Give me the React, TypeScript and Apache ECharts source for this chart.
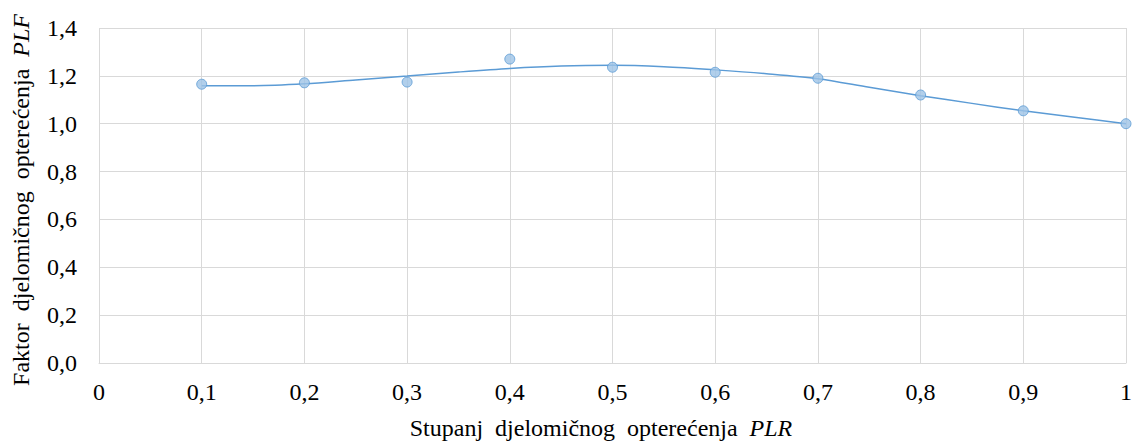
import React, { useEffect, useRef } from "react";
import * as echarts from "echarts";

const plrValues = [0.1, 0.2, 0.3, 0.4, 0.5, 0.6, 0.7, 0.8, 0.9, 1.0];
const plfValues = [1.165, 1.171, 1.174, 1.27, 1.236, 1.215, 1.19, 1.12, 1.054, 1.0];

const trendX = [0.1, 0.15, 0.2, 0.25, 0.3, 0.35, 0.4, 0.45, 0.5, 0.55, 0.6, 0.65, 0.7, 0.75, 0.8, 0.85, 0.9, 0.95, 1.0];
const trendY = [1.159, 1.159, 1.167, 1.183, 1.199, 1.216, 1.231, 1.241, 1.244, 1.238, 1.225, 1.209, 1.188, 1.152, 1.117, 1.085, 1.054, 1.027, 1.0];

const xTitle = "Stupanj  djelomičnog  opterećenja";
const xTitleItalic = "PLR";
const yTitle = "Faktor  djelomičnog  opterećenja";
const yTitleItalic = "PLF";

const FONT = "Liberation Serif";
const FS = 24;

function fmtX(v: number): string {
  if (Math.abs(v) < 1e-9) return "0";
  if (Math.abs(v - 1) < 1e-9) return "1";
  return v.toFixed(1).replace(".", ",");
}
function fmtY(v: number): string {
  return v.toFixed(1).replace(".", ",");
}

export default function App() {
  const ref = useRef<HTMLDivElement>(null);
  useEffect(() => {
    if (!ref.current) return;
    const chart = echarts.init(ref.current, undefined, { renderer: "svg" });
    const rich = {
      a: { fontFamily: FONT, fontSize: FS, color: "#000" },
      b: { fontFamily: FONT, fontSize: FS, fontStyle: "italic", color: "#000" },
    };
    chart.setOption({
      animation: false,
      backgroundColor: "#fff",
      textStyle: { fontFamily: FONT },
      grid: { left: 99, right: 2, top: 28, bottom: 79, containLabel: false },
      xAxis: {
        type: "value",
        min: 0,
        max: 1,
        interval: 0.1,
        axisLine: { show: true, lineStyle: { color: "#d9d9d9", width: 1 } },
        axisTick: { show: false },
        splitLine: { show: true, lineStyle: { color: "#d9d9d9", width: 1 } },
        axisLabel: {
          formatter: fmtX,
          fontFamily: FONT,
          fontSize: FS,
          color: "#000",
          margin: 17,
          showMaxLabel: true,
          showMinLabel: true,
        },
      },
      yAxis: {
        type: "value",
        min: 0,
        max: 1.4,
        interval: 0.2,
        axisLine: { show: false },
        axisTick: { show: false },
        splitLine: { show: true, lineStyle: { color: "#d9d9d9", width: 1 } },
        axisLabel: {
          formatter: fmtY,
          fontFamily: FONT,
          fontSize: FS,
          color: "#000",
          margin: 22,
        },
      },
      graphic: [
        {
          type: "line",
          shape: { x1: 99.5, y1: 28, x2: 99.5, y2: 363 },
          style: { stroke: "#d9d9d9", lineWidth: 1 },
          silent: true,
        },
        {
          type: "text",
          x: 601,
          y: 428,
          style: {
            text: "{a|" + xTitle + "}  {b|" + xTitleItalic + "}",
            rich,
            fontFamily: FONT,
            fontSize: FS,
            align: "center",
            verticalAlign: "middle",
          },
        },
        {
          type: "text",
          x: 21,
          y: 200,
          rotation: Math.PI / 2,
          style: {
            text: "{a|" + yTitle + "}  {b|" + yTitleItalic + "}",
            rich,
            fontFamily: FONT,
            fontSize: FS,
            align: "center",
            verticalAlign: "middle",
          },
        },
      ],
      series: [
        {
          type: "line",
          data: trendX.map((x, i) => [x, trendY[i]]),
          smooth: 0.3,
          showSymbol: false,
          lineStyle: { color: "#5b9bd5", width: 1.5 },
          silent: true,
          z: 2,
        },
        {
          type: "scatter",
          data: plrValues.map((x, i) => [x, plfValues[i]]),
          symbol: "circle",
          symbolSize: 10,
          itemStyle: { color: "#9dc3e6", borderColor: "#5b9bd5", borderWidth: 1 },
          z: 3,
        },
      ],
    });
    return () => chart.dispose();
  }, []);
  return (
    <div
      ref={ref}
      style={{ position: "fixed", left: 0, top: 0, width: 1135, height: 442 }}
    />
  );
}
